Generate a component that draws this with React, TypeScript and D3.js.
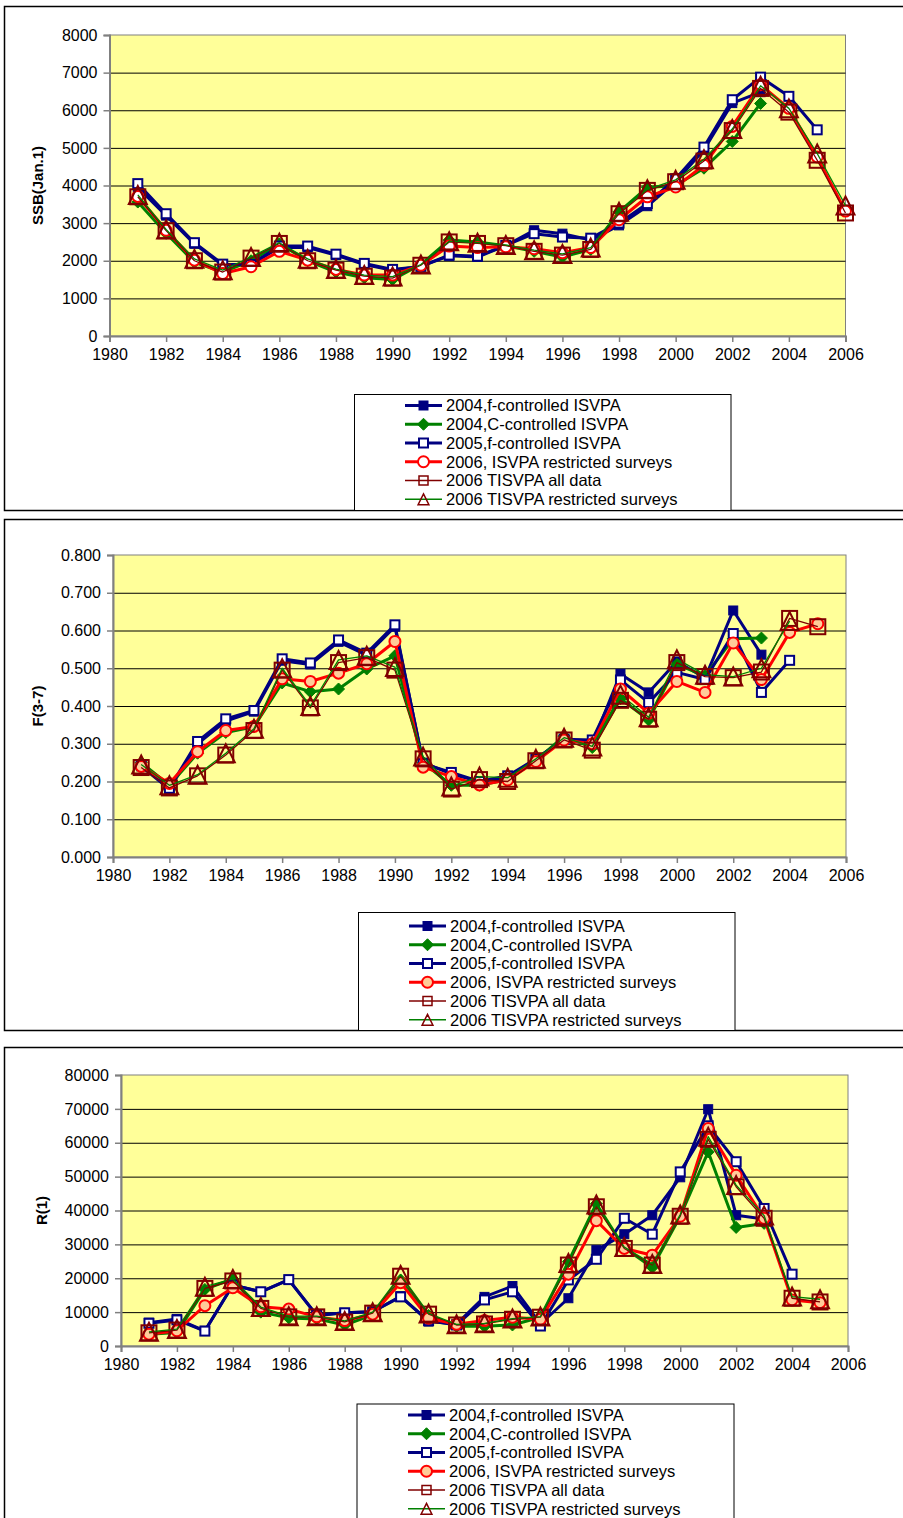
import { useEffect, useRef } from 'react';
import * as d3 from 'd3';

// years on the category axis (each series starts in 1981)
const years = [1981, 1982, 1983, 1984, 1985, 1986, 1987, 1988, 1989, 1990, 1991, 1992, 1993,
  1994, 1995, 1996, 1997, 1998, 1999, 2000, 2001, 2002, 2003, 2004, 2005, 2006];

const seriesNames = [
  '2004,f-controlled ISVPA',
  '2004,C-controlled ISVPA',
  '2005,f-controlled ISVPA',
  '2006, ISVPA restricted surveys',
  '2006 TISVPA all data',
  '2006 TISVPA restricted surveys',
];

// SSB(Jan.1)
const ssb2004f = [3950, 3200, 2450, 1880, 1900, 2350, 2350, 2150, 1900, 1750, 1850, 2130, 2100, 2400, 2810, 2720, 2550, 2940, 3450, 4100, 4950, 6190, 6480];
const ssb2004c = [3560, 2730, 1960, 1700, 2000, 2450, 2000, 1700, 1550, 1500, 1900, 2550, 2500, 2400, 2250, 2100, 2300, 3300, 3950, 4000, 4460, 5170, 6180];
const ssb2005f = [4050, 3250, 2480, 1910, 1900, 2390, 2390, 2175, 1930, 1770, 1850, 2150, 2120, 2410, 2720, 2630, 2600, 3000, 3520, 4180, 5020, 6280, 6880, 6370, 5480];
const ssb2006isvpa = [3710, 2810, 2015, 1660, 1840, 2250, 2015, 1770, 1620, 1620, 1880, 2390, 2350, 2370, 2320, 2210, 2350, 3090, 3700, 3960, 4540, 5570, 6680, 6050, 4760, 3320];
const ssb2006tAll = [3700, 2800, 2000, 1700, 2070, 2460, 2000, 1750, 1590, 1540, 1880, 2500, 2460, 2400, 2250, 2150, 2300, 3250, 3870, 4100, 4650, 5460, 6580, 5950, 4670, 3270];
const ssb2006tRestr = [3750, 2830, 2050, 1750, 2100, 2480, 2050, 1780, 1620, 1580, 1900, 2520, 2480, 2420, 2280, 2180, 2350, 3300, 3900, 4150, 4700, 5500, 6650, 6050, 4850, 3470];

// F(3-7)
const f2004f = [0.240, 0.180, 0.300, 0.360, 0.385, 0.520, 0.510, 0.570, 0.535, 0.610, 0.250, 0.220, 0.200, 0.210, 0.260, 0.310, 0.300, 0.485, 0.436, 0.518, 0.474, 0.653, 0.536];
const f2004c = [0.250, 0.190, 0.275, 0.330, 0.345, 0.461, 0.438, 0.445, 0.498, 0.533, 0.250, 0.190, 0.190, 0.205, 0.255, 0.320, 0.290, 0.420, 0.363, 0.510, 0.480, 0.578, 0.580];
const f2005f = [0.244, 0.182, 0.306, 0.366, 0.388, 0.525, 0.514, 0.575, 0.540, 0.615, 0.247, 0.224, 0.200, 0.215, 0.260, 0.312, 0.310, 0.469, 0.409, 0.489, 0.470, 0.592, 0.436, 0.521];
const f2006isvpa = [0.240, 0.195, 0.279, 0.335, 0.346, 0.472, 0.465, 0.487, 0.512, 0.571, 0.238, 0.213, 0.191, 0.204, 0.253, 0.310, 0.300, 0.445, 0.381, 0.465, 0.436, 0.567, 0.470, 0.595, 0.618];
const f2006tAll = [0.237, 0.183, 0.215, 0.270, 0.335, 0.495, 0.395, 0.515, 0.528, 0.495, 0.260, 0.180, 0.205, 0.200, 0.255, 0.310, 0.283, 0.415, 0.365, 0.515, 0.478, 0.475, 0.490, 0.632, 0.610];
const f2006tRestr = [0.245, 0.190, 0.218, 0.275, 0.340, 0.500, 0.400, 0.522, 0.533, 0.503, 0.266, 0.187, 0.213, 0.210, 0.260, 0.316, 0.293, 0.430, 0.370, 0.524, 0.483, 0.478, 0.500, 0.625];

// R(1)
const r2004f = [6900, 8000, 4500, 18000, 16000, 19500, 9000, 9800, 10100, 14700, 7200, 6500, 14500, 17700, 6500, 14100, 28300, 33000, 38600, 49800, 69900, 38600, 37500];
const r2004c = [3500, 4000, 16700, 19800, 10000, 8300, 8000, 6200, 9200, 19500, 9000, 5800, 5800, 6200, 8500, 24900, 42000, 29000, 23200, 38300, 57300, 35000, 36200];
const r2005f = [6700, 7700, 4400, 18000, 16000, 19600, 9100, 9800, 10100, 14500, 7500, 6200, 13600, 16000, 5900, 19500, 25600, 37700, 33000, 51400, 65000, 54400, 40600, 21200];
const r2006isvpa = [3500, 4500, 11900, 17200, 11600, 10900, 8600, 7500, 9400, 18700, 8200, 6400, 7500, 8500, 7900, 21200, 37000, 28800, 26800, 38300, 64200, 50400, 37700, 13600, 12800];
const r2006tAll = [3900, 4700, 17000, 19200, 11100, 8600, 8600, 7100, 9700, 20600, 9400, 6200, 6500, 7900, 8500, 23900, 41100, 28800, 23900, 38300, 61000, 47000, 37700, 14100, 13000];
const r2006tRestr = [4200, 5000, 17500, 19800, 11500, 8800, 8800, 7400, 10000, 21000, 9600, 6400, 6700, 8100, 8700, 24500, 41800, 29200, 24200, 38800, 61800, 47500, 38500, 14600, 13800];

const xTicks = [1980, 1982, 1984, 1986, 1988, 1990, 1992, 1994, 1996, 1998, 2000, 2002, 2004, 2006];

const FONT = '"Liberation Sans", Arial, Helvetica, sans-serif';
const NAVY = '#000080';
const GREEN = '#008000';
const RED = '#ff0000';
const DARKRED = '#800000';

type Marker = 'fsq' | 'diamond' | 'osq' | 'circle' | 'bigsq' | 'tri';
const styles: { line: string; width: number; marker: Marker }[] = [
  { line: NAVY, width: 3, marker: 'fsq' },
  { line: GREEN, width: 3, marker: 'diamond' },
  { line: NAVY, width: 3, marker: 'osq' },
  { line: RED, width: 3, marker: 'circle' },
  { line: DARKRED, width: 1.3, marker: 'bigsq' },
  { line: GREEN, width: 1.3, marker: 'tri' },
];

type G = d3.Selection<SVGGElement, unknown, null, undefined>;

const drawMarker = (g: G, m: Marker, x: number, y: number, circleFill: string, small = false) => {
  const k = small ? 0.6 : 1;
  if (m === 'fsq') {
    const s = 9;
    g.append('rect').attr('x', x - s / 2).attr('y', y - s / 2).attr('width', s).attr('height', s)
      .attr('fill', NAVY).attr('stroke', NAVY).attr('stroke-width', 1);
  } else if (m === 'diamond') {
    const s = 6;
    g.append('path').attr('d', `M${x},${y - s}L${x + s},${y}L${x},${y + s}L${x - s},${y}Z`)
      .attr('fill', GREEN).attr('stroke', GREEN).attr('stroke-width', 1);
  } else if (m === 'osq') {
    const s = 9;
    g.append('rect').attr('x', x - s / 2).attr('y', y - s / 2).attr('width', s).attr('height', s)
      .attr('fill', '#fff').attr('stroke', NAVY).attr('stroke-width', 2);
  } else if (m === 'circle') {
    g.append('circle').attr('cx', x).attr('cy', y).attr('r', 5.5)
      .attr('fill', circleFill).attr('stroke', RED).attr('stroke-width', 2);
  } else if (m === 'bigsq') {
    const s = 15 * k;
    g.append('rect').attr('x', x - s / 2).attr('y', y - s / 2).attr('width', s).attr('height', s)
      .attr('fill', 'none').attr('stroke', DARKRED).attr('stroke-width', small ? 1.5 : 2);
  } else {
    const w = 18 * k;
    const h = 18 * k;
    g.append('path')
      .attr('d', `M${x},${y - h / 2}L${x + w / 2},${y + h / 2}L${x - w / 2},${y + h / 2}Z`)
      .attr('fill', 'none').attr('stroke', DARKRED).attr('stroke-width', small ? 1.5 : 2);
  }
};

interface PanelSpec {
  boxTop: number;
  boxBottom: number;
  plot: { left: number; right: number; top: number; bottom: number };
  yMax: number;
  yStep: number;
  yFormat: (v: number) => string;
  yTitle: string;
  yTitleX: number;
  series: number[][];
  circleFill: string;
  legend: { left: number; right: number; top: number; bottom: number; row0: number; lineX: number };
}

const panels: PanelSpec[] = [
  {
    boxTop: 6.5, boxBottom: 510.5,
    plot: { left: 109.5, right: 845.5, top: 35, bottom: 336 },
    yMax: 8000, yStep: 1000, yFormat: d3.format('d'),
    yTitle: 'SSB(Jan.1)', yTitleX: 38,
    series: [ssb2004f, ssb2004c, ssb2005f, ssb2006isvpa, ssb2006tAll, ssb2006tRestr],
    circleFill: '#ffffff',
    legend: { left: 354.5, right: 731, top: 394.5, bottom: 510.5, row0: 405.5, lineX: 405 },
  },
  {
    boxTop: 519.5, boxBottom: 1030.5,
    plot: { left: 113, right: 846, top: 555, bottom: 857 },
    yMax: 0.8, yStep: 0.1, yFormat: d3.format('.3f'),
    yTitle: 'F(3-7)', yTitleX: 38,
    series: [f2004f, f2004c, f2005f, f2006isvpa, f2006tAll, f2006tRestr],
    circleFill: '#ffcc99',
    legend: { left: 358.5, right: 735, top: 912.5, bottom: 1030.5, row0: 926, lineX: 409 },
  },
  {
    boxTop: 1047.5, boxBottom: 1560,
    plot: { left: 121, right: 848, top: 1075, bottom: 1346 },
    yMax: 80000, yStep: 10000, yFormat: d3.format('d'),
    yTitle: 'R(1)', yTitleX: 42,
    series: [r2004f, r2004c, r2005f, r2006isvpa, r2006tAll, r2006tRestr],
    circleFill: '#ffcc99',
    legend: { left: 357, right: 734, top: 1404, bottom: 1560, row0: 1415, lineX: 408 },
  },
];

const drawPanel = (root: d3.Selection<SVGSVGElement, unknown, null, undefined>, p: PanelSpec) => {
  const g = root.append('g');
  const { left, right, top, bottom } = p.plot;

  // outer chart box
  g.append('rect').attr('x', 4.5).attr('y', p.boxTop).attr('width', 940).attr('height', p.boxBottom - p.boxTop)
    .attr('fill', '#fff').attr('stroke', '#000').attr('stroke-width', 1.5);

  const x = d3.scaleLinear().domain([1980, 2006]).range([left, right]);
  const y = d3.scaleLinear().domain([0, p.yMax]).range([bottom, top]);
  const yTicks = d3.range(0, Math.round(p.yMax / p.yStep) + 1).map(i => i * p.yStep);

  // plot area
  g.append('rect').attr('x', left).attr('y', top).attr('width', right - left).attr('height', bottom - top)
    .attr('fill', '#ffff99').attr('stroke', '#808080').attr('stroke-width', 1);

  // grid lines
  g.append('g')
    .attr('transform', `translate(${left},0)`)
    .call(d3.axisLeft(y).tickValues(yTicks.slice(1, -1)).tickSize(-(right - left)).tickFormat(() => ''))
    .call(s => s.select('.domain').remove())
    .call(s => s.selectAll('.tick line').attr('stroke', '#000').attr('stroke-width', 1));

  // y axis
  g.append('g')
    .attr('transform', `translate(${left},0)`)
    .call(d3.axisLeft(y).tickValues(yTicks).tickSize(6).tickPadding(6).tickFormat(d => p.yFormat(d as number)))
    .call(s => s.select('.domain').attr('stroke', '#808080').attr('stroke-width', 2))
    .call(s => s.selectAll('.tick line').attr('stroke', '#808080').attr('stroke-width', 1.5))
    .call(s => s.selectAll('.tick text').attr('fill', '#000').style('font-size', '16px').style('font-family', FONT));

  // x axis
  g.append('g')
    .attr('transform', `translate(0,${bottom})`)
    .call(d3.axisBottom(x).tickValues(xTicks).tickSize(6).tickPadding(7).tickFormat(d => String(d)))
    .call(s => s.select('.domain').attr('stroke', '#808080').attr('stroke-width', 2))
    .call(s => s.selectAll('.tick line').attr('stroke', '#808080').attr('stroke-width', 1.5))
    .call(s => s.selectAll('.tick text').attr('fill', '#000').style('font-size', '16px').style('font-family', FONT));

  // y axis title
  const midY = (top + bottom) / 2;
  g.append('text')
    .attr('transform', `translate(${p.yTitleX},${midY}) rotate(-90)`)
    .attr('text-anchor', 'middle').attr('dy', '0.35em')
    .attr('font-family', FONT).attr('font-size', 15).attr('font-weight', 'bold')
    .text(p.yTitle);

  // series
  p.series.forEach((vals, i) => {
    const st = styles[i];
    const pts = vals.map((v, j) => [x(years[j]), y(v)] as [number, number]);
    g.append('path')
      .attr('d', d3.line()(pts))
      .attr('fill', 'none').attr('stroke', st.line).attr('stroke-width', st.width)
      .attr('stroke-linejoin', 'round');
    const mg = g.append('g');
    pts.forEach(([px, py]) => drawMarker(mg, st.marker, px, py, p.circleFill));
  });

  // legend
  const L = p.legend;
  g.append('rect').attr('x', L.left).attr('y', L.top).attr('width', L.right - L.left).attr('height', L.bottom - L.top)
    .attr('fill', '#fff').attr('stroke', '#000').attr('stroke-width', 1);
  seriesNames.forEach((name, i) => {
    const st = styles[i];
    const ry = L.row0 + i * 18.75;
    const lg = g.append('g');
    lg.append('line').attr('x1', L.lineX).attr('x2', L.lineX + 37).attr('y1', ry).attr('y2', ry)
      .attr('stroke', st.line).attr('stroke-width', st.width);
    drawMarker(lg, st.marker, L.lineX + 18.5, ry, p.circleFill, true);
    lg.append('text').attr('x', L.lineX + 41).attr('y', ry).attr('dy', '0.36em')
      .attr('font-family', FONT).attr('font-size', 16.5).text(name);
  });
};

export default function App() {
  const svgRef = useRef<SVGSVGElement>(null);

  useEffect(() => {
    if (!svgRef.current) return;
    const svg = d3.select(svgRef.current);
    svg.selectAll('*').remove();
    svg.append('rect').attr('width', 903).attr('height', 1518).attr('fill', '#fff');
    panels.forEach(p => drawPanel(svg, p));
  }, []);

  return (
    <svg
      ref={svgRef}
      width={903}
      height={1518}
      style={{ position: 'absolute', left: 0, top: 0, display: 'block' }}
    />
  );
}
